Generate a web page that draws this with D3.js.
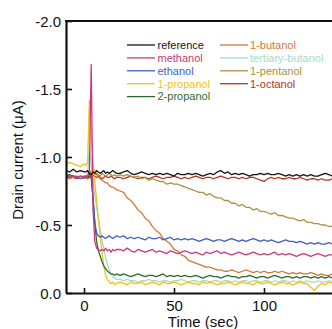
<!DOCTYPE html>
<html>
<head>
<meta charset="utf-8">
<script src="https://cdn.jsdelivr.net/npm/d3@7/dist/d3.min.js"></script>
<style>
  html, body { margin: 0; padding: 0; background: #fff; }
  svg { display: block; font-family: "Liberation Sans", Arial, Helvetica, sans-serif; }
</style>
</head>
<body>
<svg id="chart" width="332" height="329"></svg>
<script>
// Sampling times (sec) shared by every trace
const time = [
  -10, -8, -6, -4, -2, 0,
  1, 2, 3, 4, 5, 6, 7, 8, 9, 10, 11, 12, 13, 14, 15, 16, 17, 18,
  20, 22, 24, 26, 28, 30, 32, 34, 36, 38,
  40, 42, 44, 46, 48, 50, 52, 54, 56, 58,
  60, 62, 64, 66, 68, 70, 72, 74, 76, 78,
  80, 82, 84, 86, 88, 90, 92, 94, 96, 98,
  100, 102, 104, 106, 108, 110, 112, 114, 116, 118,
  120, 122, 124, 126, 128, 130, 132, 134, 136, 138,
  140
];

// Drain current (uA) for each exposure
const reference = [
  -0.90,-0.89,-0.91,-0.89,-0.90,-0.89,
  -0.89,-0.90,-0.88,-0.87,-0.89,-0.88,-0.90,-0.89,-0.88,-0.89,-0.90,-0.88,-0.89,-0.88,-0.89,-0.90,-0.89,-0.88,
  -0.88,-0.89,-0.90,-0.88,-0.87,-0.88,-0.89,-0.88,-0.87,-0.88,
  -0.87,-0.88,-0.87,-0.88,-0.87,-0.86,-0.88,-0.87,-0.87,-0.88,
  -0.87,-0.88,-0.87,-0.86,-0.87,-0.88,-0.87,-0.89,-0.90,-0.88,
  -0.89,-0.87,-0.88,-0.87,-0.88,-0.87,-0.86,-0.87,-0.87,-0.88,
  -0.87,-0.88,-0.87,-0.87,-0.88,-0.87,-0.86,-0.87,-0.86,-0.87,
  -0.86,-0.87,-0.86,-0.87,-0.86,-0.86,-0.87,-0.88,-0.87,-0.86,
  -0.87
];
const methanol = [
  -0.86,-0.85,-0.86,-0.85,-0.86,-0.85,
  -0.86,-0.85,-0.90,-1.68,-0.62,-0.38,-0.33,-0.32,-0.31,-0.32,-0.31,-0.33,-0.31,-0.32,-0.30,-0.32,-0.31,-0.32,
  -0.32,-0.31,-0.33,-0.31,-0.30,-0.32,-0.31,-0.30,-0.31,-0.32,
  -0.30,-0.31,-0.30,-0.29,-0.31,-0.30,-0.29,-0.30,-0.31,-0.30,
  -0.29,-0.30,-0.29,-0.28,-0.30,-0.29,-0.30,-0.31,-0.29,-0.30,
  -0.29,-0.28,-0.29,-0.30,-0.29,-0.28,-0.29,-0.30,-0.29,-0.28,
  -0.29,-0.28,-0.29,-0.30,-0.28,-0.29,-0.28,-0.29,-0.28,-0.27,
  -0.28,-0.29,-0.28,-0.27,-0.28,-0.29,-0.28,-0.27,-0.28,-0.28,
  -0.27
];
const ethanol = [
  -0.86,-0.85,-0.86,-0.85,-0.84,-0.85,
  -0.85,-0.86,-0.88,-0.86,-0.70,-0.52,-0.44,-0.42,-0.41,-0.42,-0.41,-0.40,-0.41,-0.42,-0.41,-0.40,-0.41,-0.42,
  -0.41,-0.42,-0.40,-0.41,-0.40,-0.41,-0.40,-0.39,-0.41,-0.40,
  -0.40,-0.41,-0.39,-0.40,-0.41,-0.39,-0.40,-0.39,-0.40,-0.39,
  -0.40,-0.39,-0.38,-0.39,-0.40,-0.39,-0.38,-0.39,-0.39,-0.38,
  -0.39,-0.40,-0.39,-0.38,-0.39,-0.38,-0.39,-0.40,-0.39,-0.38,
  -0.39,-0.38,-0.39,-0.38,-0.37,-0.38,-0.39,-0.38,-0.38,-0.37,
  -0.38,-0.37,-0.36,-0.37,-0.36,-0.37,-0.36,-0.36,-0.37,-0.36,
  -0.37
];
const propanol1 = [
  -0.95,-0.96,-0.95,-0.94,-0.93,-0.95,
  -0.94,-0.96,-1.42,-1.15,-0.98,-0.82,-0.68,-0.54,-0.42,-0.30,-0.20,-0.13,-0.10,-0.08,-0.07,-0.08,-0.06,-0.07,
  -0.08,-0.07,-0.06,-0.08,-0.07,-0.07,-0.08,-0.06,-0.07,-0.08,
  -0.07,-0.06,-0.08,-0.07,-0.07,-0.08,-0.07,-0.06,-0.07,-0.08,
  -0.07,-0.07,-0.06,-0.08,-0.07,-0.08,-0.07,-0.06,-0.07,-0.07,
  -0.08,-0.07,-0.06,-0.07,-0.08,-0.07,-0.07,-0.06,-0.08,-0.07,
  -0.07,-0.08,-0.07,-0.06,-0.07,-0.08,-0.07,-0.07,-0.06,-0.07,
  -0.08,-0.07,-0.07,-0.04,-0.02,-0.05,-0.07,-0.06,-0.08,-0.07,
  -0.07
];
const propanol2 = [
  -0.86,-0.87,-0.86,-0.85,-0.86,-0.85,
  -0.86,-0.85,-0.86,-0.85,-0.70,-0.52,-0.38,-0.31,-0.27,-0.23,-0.20,-0.18,-0.16,-0.15,-0.14,-0.14,-0.13,-0.14,
  -0.13,-0.14,-0.13,-0.12,-0.13,-0.14,-0.13,-0.12,-0.13,-0.13,
  -0.12,-0.13,-0.14,-0.12,-0.13,-0.12,-0.13,-0.12,-0.13,-0.12,
  -0.12,-0.13,-0.12,-0.11,-0.12,-0.13,-0.12,-0.12,-0.11,-0.12,
  -0.13,-0.12,-0.12,-0.11,-0.12,-0.12,-0.13,-0.12,-0.11,-0.12,
  -0.12,-0.11,-0.12,-0.13,-0.12,-0.11,-0.12,-0.12,-0.11,-0.12,
  -0.11,-0.12,-0.12,-0.11,-0.12,-0.11,-0.12,-0.11,-0.12,-0.11,
  -0.11
];
const butanol1 = [
  -0.85,-0.84,-0.85,-0.86,-0.85,-0.84,
  -0.85,-0.84,-0.86,-0.90,-0.91,-0.90,-0.87,-0.85,-0.84,-0.83,-0.82,-0.81,-0.81,-0.79,-0.78,-0.78,-0.77,-0.76,
  -0.75,-0.74,-0.70,-0.68,-0.65,-0.61,-0.59,-0.55,-0.53,-0.49,
  -0.46,-0.44,-0.40,-0.38,-0.36,-0.32,-0.31,-0.28,-0.27,-0.24,
  -0.23,-0.22,-0.21,-0.20,-0.19,-0.19,-0.18,-0.17,-0.17,-0.16,
  -0.16,-0.17,-0.16,-0.15,-0.16,-0.17,-0.16,-0.15,-0.16,-0.15,
  -0.16,-0.15,-0.15,-0.16,-0.15,-0.16,-0.15,-0.14,-0.15,-0.14,
  -0.15,-0.14,-0.14,-0.15,-0.14,-0.13,-0.14,-0.13,-0.13,-0.14,
  -0.13
];
const tertButanol = [
  -0.86,-0.85,-0.86,-0.86,-0.85,-0.86,
  -0.86,-0.88,-1.07,-0.95,-0.82,-0.72,-0.63,-0.55,-0.47,-0.39,-0.32,-0.26,-0.21,-0.17,-0.14,-0.12,-0.11,-0.10,
  -0.10,-0.09,-0.10,-0.09,-0.09,-0.08,-0.09,-0.09,-0.10,-0.09,
  -0.09,-0.08,-0.09,-0.09,-0.08,-0.09,-0.09,-0.10,-0.09,-0.08,
  -0.09,-0.09,-0.08,-0.09,-0.09,-0.08,-0.09,-0.09,-0.08,-0.09,
  -0.09,-0.08,-0.09,-0.08,-0.09,-0.09,-0.08,-0.09,-0.09,-0.08,
  -0.09,-0.09,-0.08,-0.09,-0.08,-0.09,-0.09,-0.08,-0.09,-0.08,
  -0.09,-0.08,-0.09,-0.08,-0.08,-0.09,-0.08,-0.08,-0.09,-0.08,
  -0.08
];
const pentanol1 = [
  -0.86,-0.85,-0.86,-0.86,-0.85,-0.86,
  -0.85,-0.86,-0.87,-0.88,-0.86,-0.87,-0.88,-0.87,-0.86,-0.88,-0.87,-0.86,-0.87,-0.88,-0.87,-0.86,-0.87,-0.86,
  -0.87,-0.86,-0.87,-0.86,-0.85,-0.86,-0.84,-0.85,-0.83,-0.84,
  -0.83,-0.82,-0.82,-0.80,-0.81,-0.80,-0.80,-0.79,-0.78,-0.77,
  -0.76,-0.75,-0.74,-0.74,-0.72,-0.73,-0.71,-0.70,-0.70,-0.68,
  -0.68,-0.66,-0.66,-0.64,-0.65,-0.63,-0.63,-0.61,-0.62,-0.60,
  -0.60,-0.59,-0.58,-0.59,-0.57,-0.57,-0.56,-0.55,-0.55,-0.54,
  -0.53,-0.54,-0.52,-0.52,-0.51,-0.51,-0.50,-0.50,-0.49,-0.49,
  -0.49
];
const octanol1 = [
  -0.85,-0.86,-0.85,-0.84,-0.85,-0.86,
  -0.85,-0.84,-0.85,-0.86,-0.87,-0.86,-0.85,-0.86,-0.85,-0.84,-0.85,-0.86,-0.85,-0.85,-0.86,-0.85,-0.84,-0.85,
  -0.85,-0.84,-0.85,-0.86,-0.85,-0.84,-0.85,-0.85,-0.84,-0.85,
  -0.86,-0.85,-0.84,-0.85,-0.85,-0.86,-0.85,-0.84,-0.85,-0.84,
  -0.85,-0.86,-0.85,-0.84,-0.85,-0.85,-0.84,-0.85,-0.86,-0.85,
  -0.84,-0.85,-0.85,-0.84,-0.85,-0.84,-0.85,-0.85,-0.84,-0.83,
  -0.82,-0.84,-0.85,-0.84,-0.85,-0.84,-0.84,-0.85,-0.84,-0.84,
  -0.85,-0.84,-0.83,-0.84,-0.84,-0.83,-0.84,-0.83,-0.83,-0.84,
  -0.83
];

// Legend order (two columns) and drawing order (back to front)
const legendLeft = ["reference", "methanol", "ethanol", "1-propanol", "2-propanol"];
const legendRight = ["1-butanol", "tertiary-butanol", "1-pentanol", "1-octanol"];
const drawOrder = ["1-octanol", "1-pentanol", "1-butanol", "tertiary-butanol",
                   "1-propanol", "2-propanol", "ethanol", "methanol", "reference"];

const yTicks = [-2.0, -1.5, -1.0, -0.5, 0.0];
const xTicks = [0, 50, 100];

const valuesByName = {
  "reference": reference, "methanol": methanol, "ethanol": ethanol,
  "1-propanol": propanol1, "2-propanol": propanol2, "1-butanol": butanol1,
  "tertiary-butanol": tertButanol, "1-pentanol": pentanol1, "1-octanol": octanol1
};
const colorByName = {
  "reference": "#151515", "methanol": "#c93a7c", "ethanol": "#3d5fc2",
  "1-propanol": "#f1c31a", "2-propanol": "#2f6a35", "1-butanol": "#d0783a",
  "tertiary-butanol": "#a5dbc5", "1-pentanol": "#ab9240", "1-octanol": "#b53523"
};

const svg = d3.select("#chart");
const plotLeft = 66, plotTop = 21, plotBottom = 293;

const x = d3.scaleLinear().domain([-10, 150]).range([plotLeft, 354]);
const y = d3.scaleLinear().domain([0, -2]).range([plotBottom, plotTop]);

// Plot clip so traces stay inside the frame
svg.append("defs").append("clipPath").attr("id", "plotClip")
  .append("rect").attr("x", plotLeft).attr("y", plotTop)
  .attr("width", 400).attr("height", plotBottom - plotTop);

const line = d3.line()
  .x(d => x(d[0]))
  .y(d => y(d[1]));

const traces = svg.append("g").attr("clip-path", "url(#plotClip)");
drawOrder.forEach(name => {
  const vals = valuesByName[name];
  const pts = time.map((t, i) => [t, vals[i]]).filter(p => p[1] !== undefined);
  traces.append("path")
    .datum(pts)
    .attr("fill", "none")
    .attr("stroke", colorByName[name])
    .attr("stroke-width", 1.3)
    .attr("stroke-linejoin", "round")
    .attr("d", line);
});

// Axes with inward ticks
const fmt = v => v.toFixed(1);
const yAxis = d3.axisLeft(y).tickValues(yTicks).tickFormat(fmt)
  .tickSizeInner(-6).tickSizeOuter(0).tickPadding(5);
const xAxis = d3.axisBottom(x).tickValues(xTicks).tickFormat(d3.format("d"))
  .tickSizeInner(-5).tickSizeOuter(0).tickPadding(7);

const gy = svg.append("g").attr("transform", `translate(${plotLeft},0)`).call(yAxis);
const gx = svg.append("g").attr("transform", `translate(0,${plotBottom})`).call(xAxis);

[gx, gy].forEach(g => {
  g.selectAll("text").attr("font-size", 15).attr("fill", "#111")
    .attr("font-family", "'Liberation Sans', Arial, sans-serif");
  g.selectAll(".tick line").attr("stroke", "#111").attr("stroke-width", 1.6);
  g.select(".domain").attr("stroke", "#111").attr("stroke-width", 2.2);
});
gy.selectAll("text").attr("dy", "0.35em");

// Top edge of the frame
svg.append("line")
  .attr("x1", plotLeft - 1).attr("x2", 354)
  .attr("y1", plotTop).attr("y2", plotTop)
  .attr("stroke", "#111").attr("stroke-width", 2.2);

// Axis titles
svg.append("text")
  .attr("transform", "translate(23,160) rotate(-90)")
  .attr("text-anchor", "middle")
  .attr("font-size", 15).attr("fill", "#111")
  .text("Drain current (\u03bcA)");

svg.append("text")
  .attr("x", 203).attr("y", 326.5)
  .attr("text-anchor", "middle")
  .attr("font-size", 15).attr("fill", "#111")
  .text("Time (sec)");

// Legend
const legend = svg.append("g");
function legendColumn(names, lx, tx) {
  names.forEach((name, i) => {
    const ly = 45 + i * 12.9;
    legend.append("line")
      .attr("x1", lx).attr("x2", lx + 28)
      .attr("y1", ly).attr("y2", ly)
      .attr("stroke", colorByName[name]).attr("stroke-width", 1.3);
    legend.append("text")
      .attr("x", tx).attr("y", ly).attr("dy", "0.35em")
      .attr("font-size", 11).attr("fill", colorByName[name])
      .text(name);
  });
}
legendColumn(legendLeft, 127, 157.5);
legendColumn(legendRight, 220, 250);
</script>
</body>
</html>
